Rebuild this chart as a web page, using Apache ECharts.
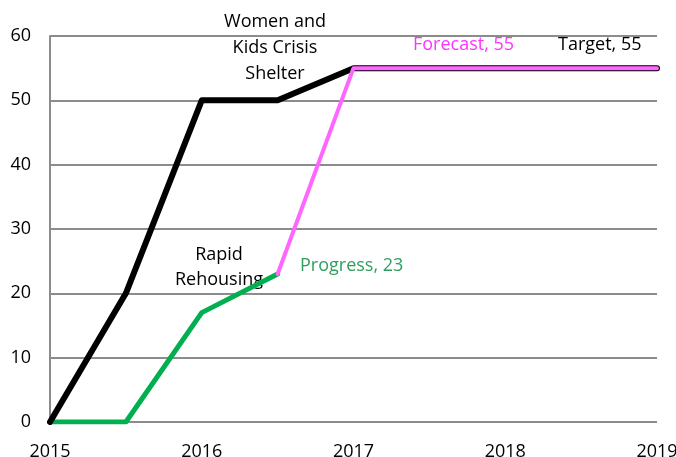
<!DOCTYPE html>
<html>
<head>
<meta charset="utf-8">
<script src="https://cdn.jsdelivr.net/npm/echarts@6/dist/echarts.min.js"></script>
<style>
  html, body { margin: 0; padding: 0; background: #fff; }
  #chart { width: 676px; height: 457px; }
</style>
</head>
<body>
<div id="chart"></div>
<script>
// x is decimal year, y is number of units
const targetX = [2015, 2015.5, 2016, 2016.5, 2017, 2019];
const targetY = [0, 20, 50, 50, 55, 55];
const progressX = [2015, 2015.5, 2016, 2016.5];
const progressY = [0, 0, 17, 23];
const forecastX = [2016.5, 2017, 2019];
const forecastY = [23, 55, 55];
const yTicks = [0, 10, 20, 30, 40, 50, 60];

const pairs = (xs, ys) => xs.map((x, i) => [x, ys[i]]);
const FONT = 'Open Sans';

let chart = echarts.init(document.getElementById('chart'));
chart.setOption({
  animation: false,
  grid: { left: 50, right: 19, top: 36, bottom: 35, outerBoundsMode: 'none', containLabel: false },
  xAxis: {
    type: 'value', min: 2015, max: 2019, interval: 1,
    axisLine: { show: false },
    axisTick: { show: false },
    splitLine: { show: false },
    axisLabel: { color: '#000', fontSize: 18, fontFamily: FONT, margin: 21, formatter: v => String(v) }
  },
  yAxis: {
    type: 'value', min: yTicks[0], max: yTicks[yTicks.length - 1], interval: 10,
    axisLine: { show: true, lineStyle: { color: '#8c8c8c', width: 2 } },
    axisTick: { show: false },
    splitLine: { lineStyle: { color: '#8c8c8c', width: 2 } },
    axisLabel: { color: '#000', fontSize: 18, fontFamily: FONT, margin: 19 }
  },
  series: [
    { name: 'Progress', type: 'line', data: pairs(progressX, progressY), symbol: 'none',
      lineStyle: { color: '#00b050', width: 5, cap: 'round', join: 'round' }, z: 2 },
    { name: 'Target', type: 'line', data: pairs(targetX, targetY), symbol: 'none',
      lineStyle: { color: '#000', width: 6, cap: 'round', join: 'round' }, z: 3 },
    { name: 'Forecast', type: 'line', data: pairs(forecastX, forecastY), symbol: 'none',
      lineStyle: { color: '#ff66ff', width: 4, cap: 'round', join: 'round' }, z: 4 }
  ],
  graphic: [
    { type: 'text', x: 275, y: 9, style: { text: 'Women and\nKids Crisis\nShelter', fill: '#000', font: '18px ' + FONT, align: 'center', verticalAlign: 'top', lineHeight: 26 } },
    { type: 'text', x: 413, y: 45, style: { text: 'Forecast, 55', fill: '#ff33ff', font: '18px ' + FONT, verticalAlign: 'middle' } },
    { type: 'text', x: 558, y: 45, style: { text: 'Target, 55', fill: '#000', font: '18px ' + FONT, verticalAlign: 'middle' } },
    { type: 'text', x: 219, y: 242, style: { text: 'Rapid\nRehousing', fill: '#000', font: '18px ' + FONT, align: 'center', verticalAlign: 'top', lineHeight: 25 } },
    { type: 'text', x: 300, y: 266, style: { text: 'Progress, 23', fill: '#2e9e5e', font: '18px ' + FONT, verticalAlign: 'middle' } }
  ]
});
</script>
</body>
</html>
